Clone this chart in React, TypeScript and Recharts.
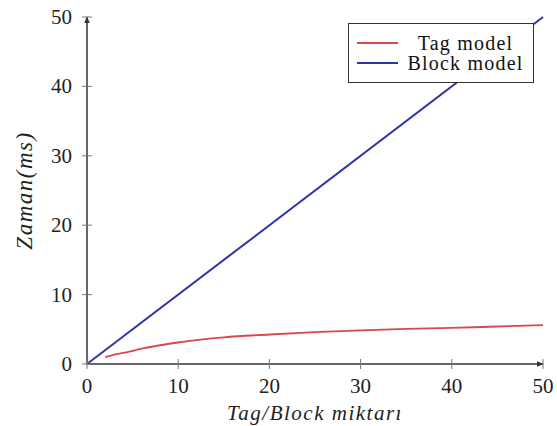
import { LineChart, Line, XAxis, YAxis } from "recharts";

const tagX = [2, 3, 4, 5, 6, 8, 10, 12, 15, 20, 25, 30, 35, 40, 45, 50];
const tagY = [1.0, 1.35, 1.6, 1.9, 2.2, 2.7, 3.1, 3.45, 3.85, 4.25, 4.6, 4.85, 5.05, 5.2, 5.4, 5.6];
const blockX = [0, 50];
const blockY = [0, 50];
const xTicks = [0, 10, 20, 30, 40, 50];
const yTicks = [0, 10, 20, 30, 40, 50];

const tagData = tagX.map((x, i) => ({ x, y: tagY[i] }));
const blockData = blockX.map((x, i) => ({ x, y: blockY[i] }));

const FONT = "'Liberation Serif', serif";
const RED = "#d8494a";
const BLUE = "#2f35a8";

function YTick({ x, y, payload }: any) {
  return (
    <g>
      <line x1={x - 5} x2={x + 5} y1={y} y2={y} stroke="#777" strokeWidth={1} />
      <text x={x - 15} y={y} dy={7} textAnchor="end" fontFamily={FONT} fontSize={21} fill="#222">
        {payload.value}
      </text>
    </g>
  );
}

function XTick({ x, y, payload }: any) {
  return (
    <g>
      <line x1={x} x2={x} y1={y - 5} y2={y + 5} stroke="#777" strokeWidth={1} />
      <text x={x} y={y + 29} textAnchor="middle" fontFamily={FONT} fontSize={21} fill="#222">
        {payload.value}
      </text>
    </g>
  );
}

function LegendBox() {
  const row = (color: string, label: string) => (
    <div style={{ display: "flex", alignItems: "center", height: 20 }}>
      <span style={{ display: "inline-block", width: 41, height: 0, borderTop: `2px solid ${color}`, marginRight: 4 }} />
      <span style={{ flex: 1, textAlign: "center", whiteSpace: "nowrap" }}>{label}</span>
    </div>
  );
  return (
    <div
      style={{
        position: "absolute",
        left: 348,
        top: 23,
        width: 186,
        height: 60,
        border: "1.5px solid #333",
        background: "#fff",
        boxSizing: "border-box",
        padding: "9px 4px 9px 8px",
        fontFamily: FONT,
        fontSize: 20,
        letterSpacing: 1.2,
        color: "#111",
        lineHeight: "20px",
      }}
    >
      {row(RED, "Tag model")}
      {row(BLUE, "Block model")}
    </div>
  );
}

export default function App() {
  return (
    <div style={{ position: "absolute", left: 0, top: 0, width: 557, height: 426, background: "#fff" }}>
      <LineChart width={557} height={426} margin={{ top: 17, right: 14, left: 0, bottom: 0 }}>
        <defs>
          <marker id="arr" viewBox="0 0 10 10" refX="9" refY="5" markerWidth="7" markerHeight="7" orient="auto-start-reverse" markerUnits="userSpaceOnUse">
            <path d="M0,1 L10,5 L0,9 z" fill="#333" />
          </marker>
        </defs>
        <XAxis
          type="number"
          dataKey="x"
          domain={[0, 50]}
          ticks={xTicks}
          height={62}
          tickSize={0}
          tickMargin={0}
          tickLine={false}
          tick={<XTick />}
          axisLine={{ stroke: "#666", strokeWidth: 2, markerEnd: "url(#arr)" }}
          label={{
            value: "Tag/Block miktarı",
            position: "insideBottom",
            offset: 6,
            fontFamily: FONT,
            fontStyle: "italic",
            fontSize: 21,
            letterSpacing: 1.5,
            fill: "#222",
          }}
        />
        <YAxis
          type="number"
          dataKey="y"
          domain={[0, 50]}
          ticks={yTicks}
          width={87}
          tickSize={0}
          tickMargin={0}
          tickLine={false}
          tick={<YTick />}
          axisLine={{ stroke: "#666", strokeWidth: 2, markerStart: "url(#arr)" }}
          label={{
            value: "Zaman(ms)",
            angle: -90,
            position: "insideLeft",
            offset: 24,
            fontFamily: FONT,
            fontStyle: "italic",
            fontSize: 23,
            letterSpacing: 1.5,
            fill: "#222",
            style: { textAnchor: "middle" },
          }}
        />
        <Line data={tagData} type="monotone" dataKey="y" stroke={RED} strokeWidth={1.8} dot={false} isAnimationActive={false} name="Tag model" />
        <Line data={blockData} dataKey="y" stroke={BLUE} strokeWidth={2} dot={false} isAnimationActive={false} name="Block model" />
      </LineChart>
      <LegendBox />
    </div>
  );
}
